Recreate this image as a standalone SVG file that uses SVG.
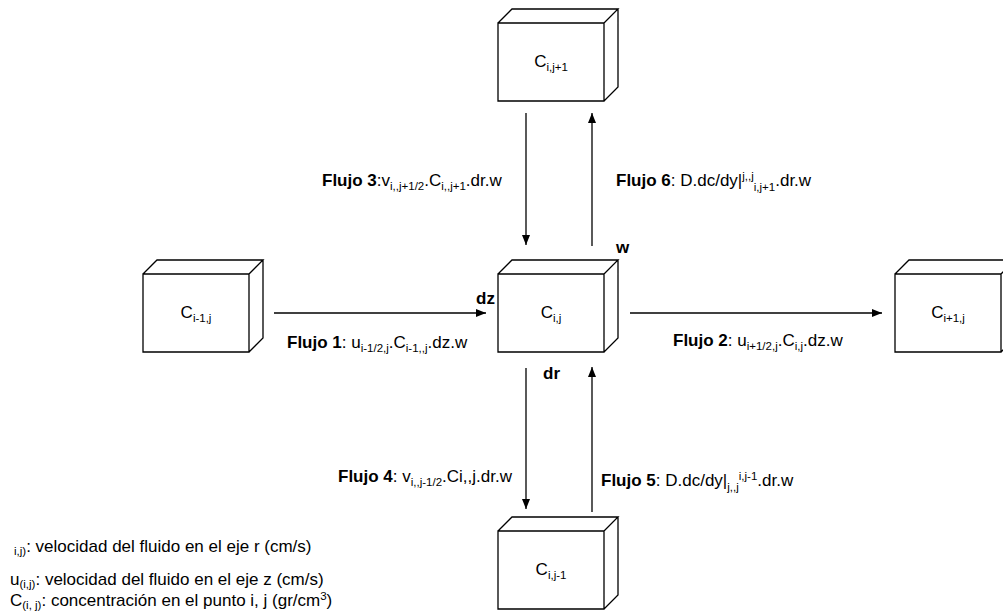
<svg xmlns="http://www.w3.org/2000/svg" width="1003" height="612" viewBox="0 0 1003 612">
<style>
.box{fill:#fff;stroke:#000;stroke-width:1.3;stroke-linejoin:miter}
.t{font-family:"Liberation Sans",Arial,sans-serif;font-size:17px;fill:#000}
.b{font-weight:bold}
.s{font-size:11.5px}
.c{font-family:"Liberation Sans",Arial,sans-serif;font-size:17px;fill:#000;text-anchor:middle}
.cs{font-size:11.5px}
.ln{stroke:#000;stroke-width:1.3;fill:none}
</style>
<defs>
<marker id="ah" viewBox="0 0 10 10" refX="10" refY="5" markerWidth="10" markerHeight="10" markerUnits="userSpaceOnUse" orient="auto">
<path d="M0,1 L10,5 L0,9 Z" fill="#000"/>
</marker>
<path id="cube" d="M0,0 H106 V78 H0 Z M0,0 L14,-14 H120 L106,0 M106,78 L120,64 V-14"/>
</defs>
<rect width="1003" height="612" fill="#fff"/>
<g id="connectors">
<line class="ln" x1="526" y1="113" x2="526" y2="245" marker-end="url(#ah)"/>
<line class="ln" x1="592" y1="246" x2="592" y2="113" marker-end="url(#ah)"/>
<line class="ln" x1="274" y1="313" x2="486" y2="313" marker-end="url(#ah)"/>
<line class="ln" x1="630" y1="313" x2="882" y2="313" marker-end="url(#ah)"/>
<line class="ln" x1="526" y1="368" x2="526" y2="509" marker-end="url(#ah)"/>
<line class="ln" x1="592" y1="512" x2="592" y2="367" marker-end="url(#ah)"/>
</g>
<g id="node-top" transform="translate(498,23)">
<use href="#cube" class="box"/>
<text class="c" x="53" y="44">C<tspan class="cs" dy="4">i,j+1</tspan></text>
</g>
<g id="node-center" transform="translate(498,274)">
<use href="#cube" class="box"/>
<text class="c" x="53" y="44">C<tspan class="cs" dy="4">i,j</tspan></text>
</g>
<g id="node-left" transform="translate(143,274)">
<use href="#cube" class="box"/>
<text class="c" x="53" y="44">C<tspan class="cs" dy="4">i-1,j</tspan></text>
</g>
<g id="node-right" transform="translate(895,274)">
<use href="#cube" class="box"/>
<text class="c" x="53" y="44">C<tspan class="cs" dy="4">i+1,j</tspan></text>
</g>
<g id="node-bottom" transform="translate(498,531)">
<use href="#cube" class="box"/>
<text class="c" x="53" y="44">C<tspan class="cs" dy="4">i,j-1</tspan></text>
</g>
<g id="labels">
<text class="t b" x="616" y="253">w</text>
<text class="t b" x="476" y="304">dz</text>
<text class="t b" x="543" y="379">dr</text>
<text class="t" x="322" y="186"><tspan class="b">Flujo 3</tspan>:v<tspan class="s" dy="4">i,,j+1/2</tspan><tspan dy="-4">.C</tspan><tspan class="s" dy="4">i,,j+1</tspan><tspan dy="-4">.dr.w</tspan></text>
<text class="t" x="616" y="186"><tspan class="b">Flujo 6</tspan>: D.dc/dy|<tspan class="s" dy="-6">j,,j</tspan><tspan class="s" dy="11">i,j+1</tspan><tspan dy="-5">.dr.w</tspan></text>
<text class="t" x="287" y="348"><tspan class="b">Flujo 1</tspan>: u<tspan class="s" dy="4">i-1/2,j</tspan><tspan dy="-4">.C</tspan><tspan class="s" dy="4">i-1,,j</tspan><tspan dy="-4">.dz.w</tspan></text>
<text class="t" x="673" y="346"><tspan class="b">Flujo 2</tspan>: u<tspan class="s" dy="4">i+1/2,j</tspan><tspan dy="-4">.C</tspan><tspan class="s" dy="4">i,j</tspan><tspan dy="-4">.dz.w</tspan></text>
<text class="t" x="338" y="482"><tspan class="b">Flujo 4</tspan>: v<tspan class="s" dy="4">i,,j-1/2</tspan><tspan dy="-4">.Ci,,j.dr.w</tspan></text>
<text class="t" x="601" y="486"><tspan class="b">Flujo 5</tspan>: D.dc/dy|<tspan class="s" dy="5">j,,j</tspan><tspan class="s" dy="-11">i,j-1</tspan><tspan dy="6">.dr.w</tspan></text>
</g>
<g id="legend">
<text class="t" x="14" y="552"><tspan class="s" dy="3">i,j)</tspan><tspan dy="-3">: velocidad del fluido en el eje r (cm/s)</tspan></text>
<text class="t" x="10" y="585">u<tspan class="s" dy="3">(i,j)</tspan><tspan dy="-3">: velocidad del fluido en el eje z (cm/s)</tspan></text>
<text class="t" x="10" y="606">C<tspan class="s" dy="3">(i, j)</tspan><tspan dy="-3">: concentración en el punto i, j (gr/cm</tspan><tspan class="s" dy="-6">3</tspan><tspan dy="6">)</tspan></text>
</g>
</svg>
